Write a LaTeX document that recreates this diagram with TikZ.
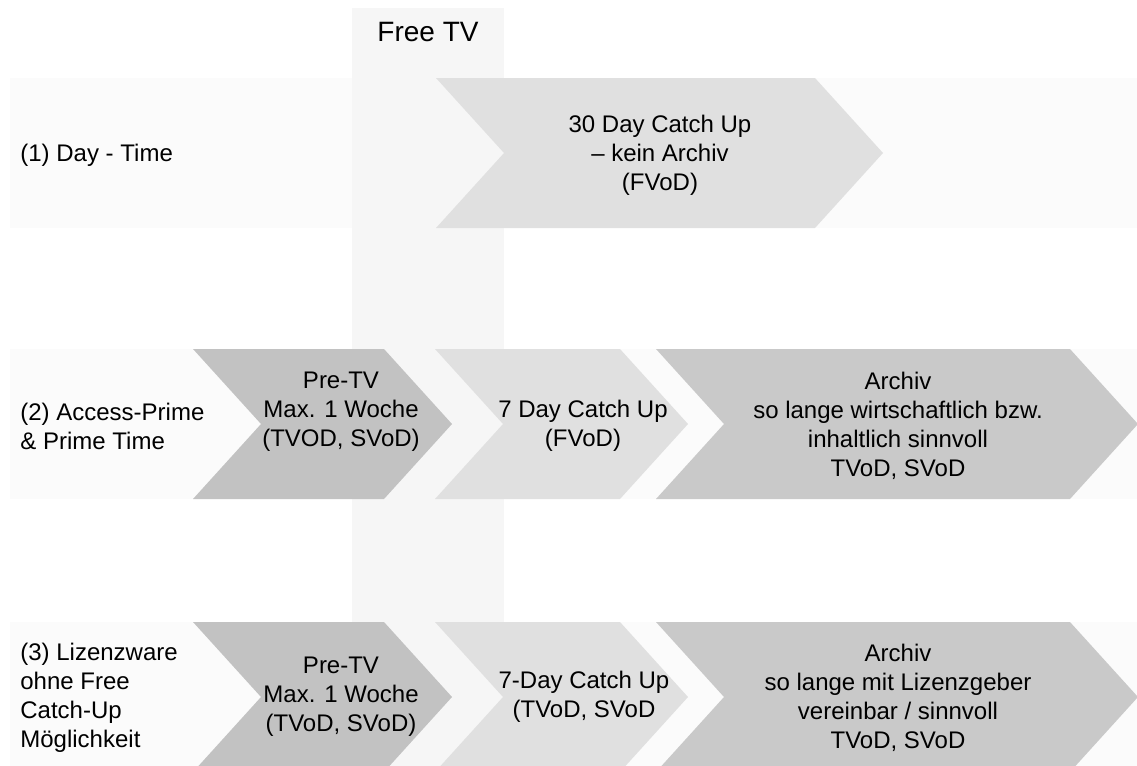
\documentclass[tikz,border=0pt]{standalone}
\usepackage{fontspec}
\setmainfont{Liberation Sans}
\usepackage{tikz}

\definecolor{bandgray}{HTML}{FBFBFB}
\definecolor{freegray}{HTML}{F6F6F6}
\definecolor{lightchev}{HTML}{E0E0E0}
\definecolor{darkchev}{HTML}{C2C2C2}
\definecolor{midchev}{HTML}{C9C9C9}

\newcommand{\chevron}[4]{\fill[#1] (#2,{#4-75}) -- (#3,{#4-75}) -- ({#3+68},#4) -- (#3,{#4+75}) -- (#2,{#4+75}) -- ({#2+68},#4) -- cycle;}

\begin{document}
\begin{tikzpicture}[x=0.5pt,y=-0.5pt,
    rowlabel/.style={anchor=west,align=left,inner sep=0pt,font=\fontsize{12}{14.5}\selectfont},
    chevtext/.style={align=center,inner sep=0pt,font=\fontsize{12}{14.5}\selectfont}]
    \useasboundingbox (0,0) rectangle (1137,766);

    \foreach \top in {78,349,622}
        \fill[bandgray] (10,\top) rectangle (1137,\top+150);
    \fill[freegray] (352,8) rectangle (504,766);

    \chevron{lightchev}{436}{815}{153}
    \chevron{darkchev}{193}{384}{424}
    \chevron{lightchev}{435}{620}{424}
    \chevron{midchev}{656}{1070}{424}
    \chevron{darkchev}{193}{384}{697}
    \chevron{lightchev}{435}{620}{697}
    \chevron{midchev}{656}{1070}{697}

    \node[font=\fontsize{14}{16}\selectfont] (freetv) at (428,32) {Free TV};

    \node[rowlabel] (day) at (20,155) {(1) Day - Time};
    \node[chevtext] (catch30) at (660,155) {30 Day Catch Up\\– kein Archiv\\(FVoD)};

    \node[rowlabel] (prime) at (20,426) {(2) Access-Prime\\\& Prime Time};
    \node[chevtext] (pretv2) at (341,412) {Pre-TV\\Max. 1 Woche\\(TVOD, SVoD)};
    \node[chevtext] (catch7) at (583,426) {7 Day Catch Up\\(FVoD)};
    \node[chevtext] (archiv2) at (898,426) {Archiv\\so lange wirtschaftlich bzw.\\inhaltlich sinnvoll\\TVoD, SVoD};

    \node[rowlabel] (lizenz) at (20,698) {(3) Lizenzware\\ohne Free\\Catch-Up\\Möglichkeit};
    \node[chevtext] (pretv3) at (341,697) {Pre-TV\\Max. 1 Woche\\(TVoD, SVoD)};
    \node[chevtext] (catch7l) at (584,697) {7-Day Catch Up\\(TVoD, SVoD};
    \node[chevtext] (archiv3) at (898,698) {Archiv\\so lange mit Lizenzgeber\\vereinbar / sinnvoll\\TVoD, SVoD};
\end{tikzpicture}
\end{document}
